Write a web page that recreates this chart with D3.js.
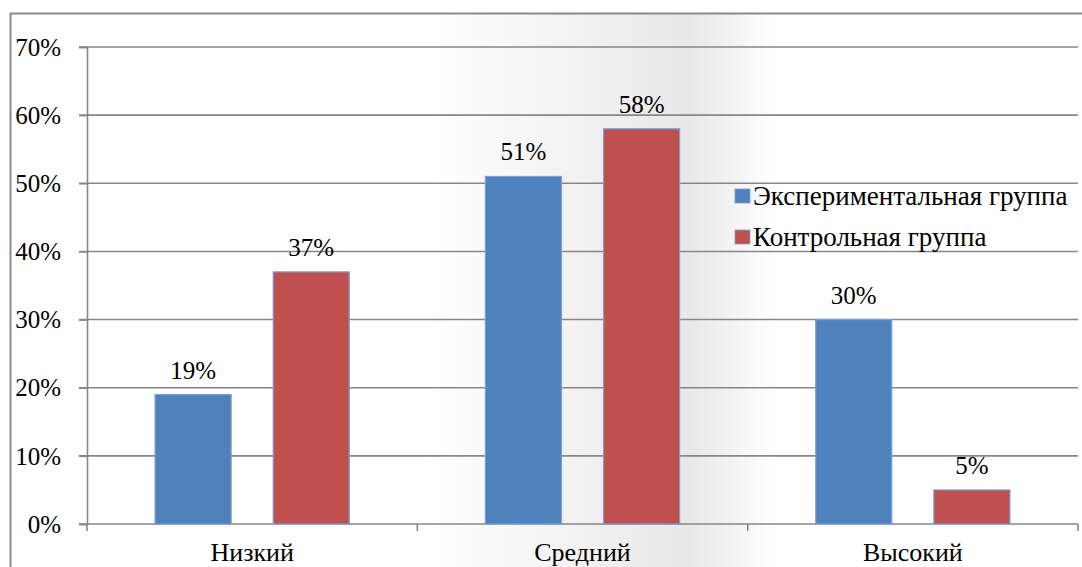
<!DOCTYPE html>
<html>
<head>
<meta charset="utf-8">
<script src="https://cdn.jsdelivr.net/npm/d3@7"></script>
<style>
  html, body { margin: 0; padding: 0; background: #fff; }
  svg { display: block; }
</style>
</head>
<body>
<svg id="chart" width="1082" height="567"></svg>
<script>
// Levels and the two groups' shares
const categories = ["Низкий", "Средний", "Высокий"];
const seriesNames = ["Экспериментальная группа", "Контрольная группа"];
const experimental = [0.19, 0.51, 0.30];
const control = [0.37, 0.58, 0.05];
const yTicks = [0, 0.1, 0.2, 0.3, 0.4, 0.5, 0.6, 0.7];
const colors = ["#4f81bd", "#c0504d"];

const svg = d3.select("#chart");
const W = 1082, H = 567;
const plot = { left: 87, right: 1078, top: 47, bottom: 524 };
const FONT = "Liberation Serif";
const FS = 25;
const pct = d3.format(".0%");

// chart area background with soft gray band
const defs = svg.append("defs");
const grad = defs.append("linearGradient")
  .attr("id", "bg").attr("gradientUnits", "userSpaceOnUse")
  .attr("x1", 0).attr("x2", W).attr("y1", 0).attr("y2", 0);
grad.append("stop").attr("offset", 430 / W).attr("stop-color", "#ffffff");
grad.append("stop").attr("offset", 690 / W).attr("stop-color", "#e8e8e8");
grad.append("stop").attr("offset", 775 / W).attr("stop-color", "#ffffff");

svg.append("rect")
  .attr("x", 10.5).attr("y", 13.5).attr("width", W + 20).attr("height", H + 20)
  .attr("fill", "url(#bg)").attr("stroke", "#8a8a8a").attr("stroke-width", 2);

const y = d3.scaleLinear().domain([0, 0.7]).range([plot.bottom, plot.top]);
const x0 = d3.scaleBand().domain(categories).range([plot.left, plot.right]).padding(0);
const x1 = d3.scaleBand().domain(seriesNames).range([0, x0.bandwidth()])
  .paddingInner(0.356).paddingOuter(0.576);

// horizontal gridlines
svg.append("g").selectAll("line").data(yTicks).join("line")
  .attr("x1", plot.left - 8).attr("x2", plot.right)
  .attr("y1", d => y(d)).attr("y2", d => y(d))
  .attr("stroke", "#878787").attr("stroke-width", 1.6);

// y axis
const yAxis = svg.append("g").attr("transform", `translate(${plot.left},0)`)
  .call(d3.axisLeft(y).tickValues(yTicks).tickFormat(pct).tickSize(8).tickPadding(18));
yAxis.attr("font-family", FONT).attr("font-size", FS);
yAxis.select(".domain").attr("stroke", "#878787").attr("stroke-width", 1.6);
yAxis.selectAll(".tick line").attr("stroke", "#878787").attr("stroke-width", 1.6);
yAxis.selectAll("text").attr("font-family", FONT).attr("font-size", FS)
  .attr("fill", "#000").attr("dy", "0.33em");

// x axis: category boundary ticks and labels
const xAxis = svg.append("g").attr("transform", `translate(0,${plot.bottom})`);
const bounds = categories.map(c => x0(c)).concat([plot.right]);
xAxis.selectAll("line").data(bounds).join("line")
  .attr("x1", d => d).attr("x2", d => d).attr("y1", 0).attr("y2", 7)
  .attr("stroke", "#878787").attr("stroke-width", 1.6);
xAxis.selectAll("text").data(categories).join("text")
  .attr("x", d => x0(d) + x0.bandwidth() / 2).attr("y", 37)
  .attr("text-anchor", "middle")
  .attr("font-family", FONT).attr("font-size", 26).attr("fill", "#000")
  .text(d => d);

// bars
const rows = categories.map((c, i) => ({ cat: c, vals: [experimental[i], control[i]] }));
const groups = svg.append("g").selectAll("g").data(rows).join("g")
  .attr("transform", d => `translate(${x0(d.cat)},0)`);
groups.selectAll("rect").data(d => d.vals.map((v, j) => ({ v, s: seriesNames[j], j })))
  .join("rect")
  .attr("x", d => x1(d.s)).attr("width", x1.bandwidth())
  .attr("y", d => y(d.v)).attr("height", d => y(0) - y(d.v))
  .attr("fill", d => colors[d.j])
  .attr("stroke", "#7ba1d6").attr("stroke-width", 1.2);

// value labels
groups.selectAll("text").data(d => d.vals.map((v, j) => ({ v, s: seriesNames[j] })))
  .join("text")
  .attr("x", d => x1(d.s) + x1.bandwidth() / 2)
  .attr("y", d => y(d.v) - 16)
  .attr("text-anchor", "middle")
  .attr("font-family", FONT).attr("font-size", FS).attr("fill", "#000")
  .text(d => pct(d.v));

// legend
const legend = svg.append("g").attr("transform", "translate(735,0)");
const legendBase = [205, 246];
seriesNames.forEach((name, i) => {
  legend.append("rect").attr("x", 0).attr("y", legendBase[i] - 16)
    .attr("width", 15).attr("height", 14).attr("fill", colors[i])
    .attr("stroke", "#7ba1d6").attr("stroke-width", 0.8);
  legend.append("text").attr("x", 18).attr("y", legendBase[i])
    .attr("font-family", FONT).attr("font-size", 27).attr("fill", "#000")
    .text(name);
});
</script>
</body>
</html>
